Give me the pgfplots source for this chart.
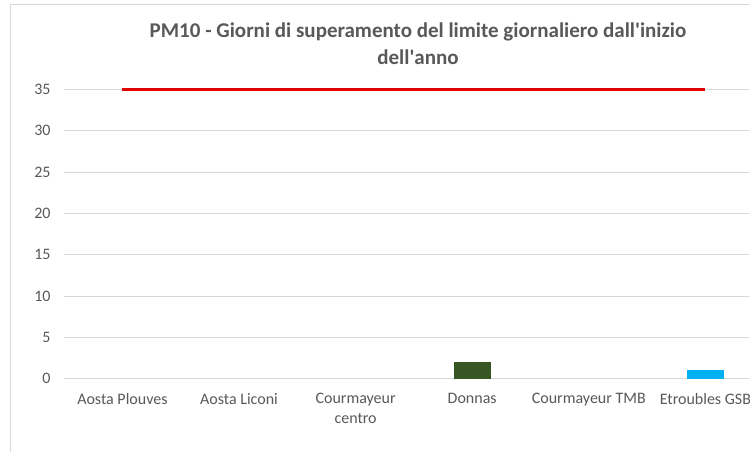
\documentclass[border=0pt]{standalone}
\usepackage{fontspec}
\setmainfont{Carlito}
\usepackage{pgfplots}
\pgfplotsset{compat=1.18}
\definecolor{gridc}{HTML}{D9D9D9}
\definecolor{txt}{HTML}{595959}
\definecolor{dgreen}{HTML}{375623}
\definecolor{lblue}{HTML}{00B0F0}
\definecolor{lim}{HTML}{E00000}
\begin{document}
\begin{tikzpicture}[x=1pt,y=1pt]
\useasboundingbox (0,0) rectangle (750,452);
\clip (0,0) rectangle (750,452);
\fill[white] (0,0) rectangle (750,452);
\draw[gridc, line width=1pt] (10,-20) rectangle (800,447);
\node[font=\bfseries\fontsize{21}{27}\selectfont, text=txt, align=center] at (418,408.5)
  {PM10 - Giorni di superamento del limite giornaliero dall\textquotesingle inizio\\dell\textquotesingle anno};
\begin{axis}[
  at={(55,89)}, anchor=south west,
  scale only axis, width=685pt, height=289pt,
  xmin=-0.5, xmax=5.375, ymin=0, ymax=35,
  ytick={0,5,...,35},
  xtick={0,1,2,3,4,5},
  xticklabels={Aosta Plouves, Aosta Liconi, {Courmayeur\\centro}, Donnas, Courmayeur TMB, Etroubles GSB},
  ymajorgrids, grid style={gridc, line width=0.8pt},
  axis line style={draw=none},
  major tick length=0pt,
  tick label style={font=\fontsize{16}{20}\selectfont, text=txt},
  xticklabel style={align=center, yshift=-11pt},
  yticklabel style={xshift=-10pt},
  /pgf/number format/assume math mode=true,
  clip=false,
]
\addplot[ybar, bar width=37pt, bar shift=0pt, fill=dgreen, draw=none] coordinates {(3,2)};
\addplot[ybar, bar width=37pt, bar shift=0pt, fill=lblue, draw=none] coordinates {(5,1)};
\addplot[lim, line width=3pt, mark=none] coordinates {(0,35) (5,35)};
\end{axis}
\end{tikzpicture}
\end{document}
